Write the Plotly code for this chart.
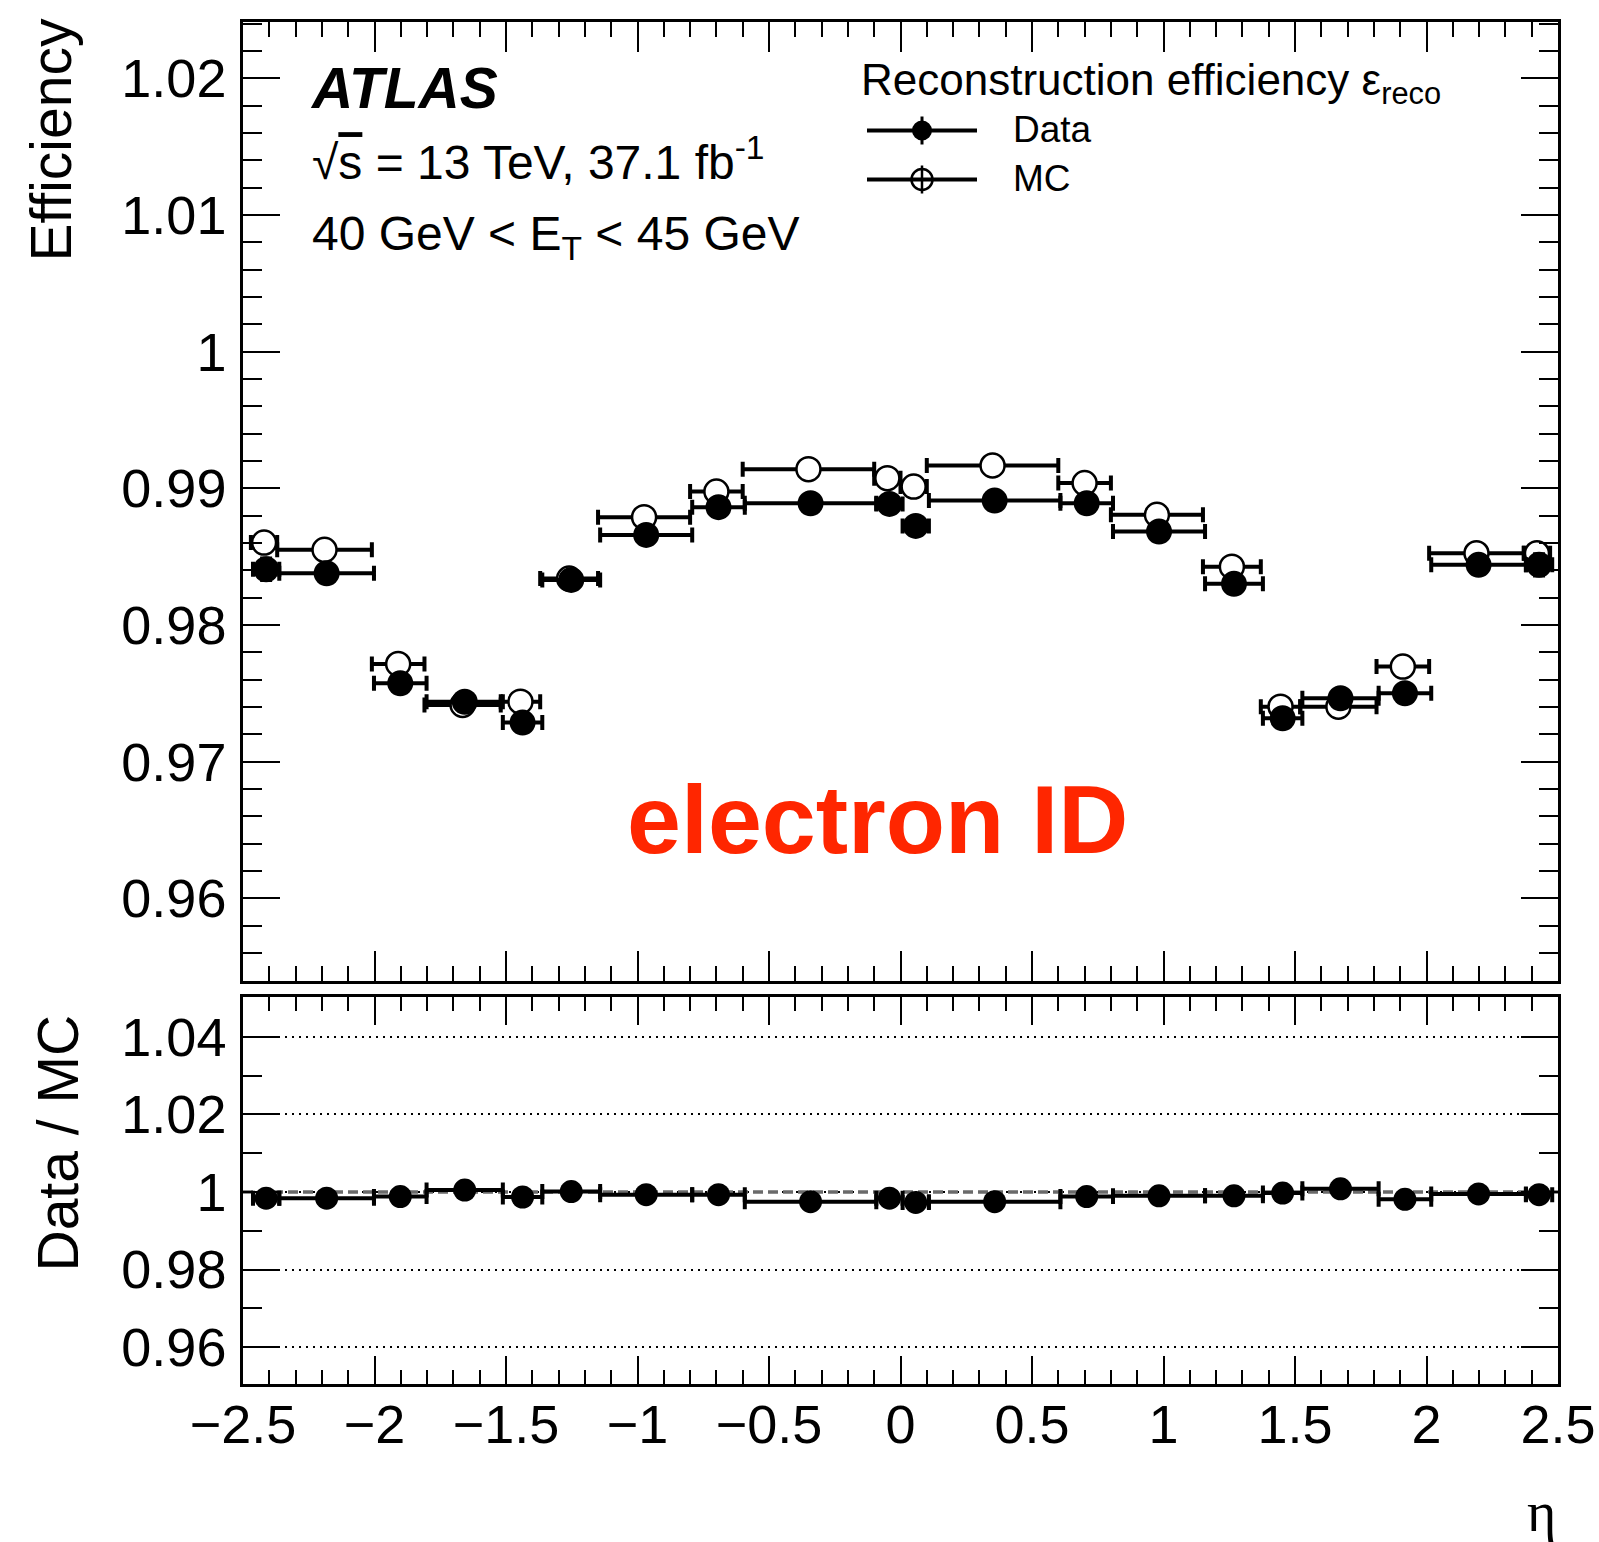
import plotly.graph_objects as go

# ---------------- data ----------------
eta_edges = [-2.47, -2.37, -2.01, -1.81, -1.52, -1.37, -1.15, -0.8, -0.6, -0.1, 0.0,
             0.1, 0.6, 0.8, 1.15, 1.37, 1.52, 1.81, 2.01, 2.37, 2.47]
eff_data = [0.98408, 0.98379, 0.97574, 0.97439, 0.97286, 0.98330, 0.98659, 0.98862,
            0.98891, 0.98886, 0.98725, 0.98910, 0.98891, 0.98684, 0.98301, 0.97318,
            0.97464, 0.97501, 0.98440, 0.98440]
eff_data_err = [0.0008, 0.0003, 0.0004, 0.0003, 0.0004, 0.0003, 0.0002, 0.0002, 0.0001, 0.0002,
                0.0003, 0.0001, 0.0002, 0.0002, 0.0003, 0.0004, 0.0003, 0.0004, 0.0003, 0.0008]
eff_mc = [0.98603, 0.98550, 0.97715, 0.97415, 0.97439, 0.98340, 0.98789, 0.98976,
          0.99140, 0.99074, 0.99013, 0.99167, 0.99038, 0.98806, 0.98427, 0.97403,
          0.97403, 0.97696, 0.98525, 0.98525]
eff_mc_err = [0.0002] * 20
ratio = [0.9984, 0.9984, 0.9988, 1.0005, 0.9987, 1.0001, 0.9993, 0.9993, 0.9975, 0.9984,
         0.9973, 0.9975, 0.9988, 0.9990, 0.9990, 0.9997, 1.0008, 0.9981, 0.9995, 0.9993]
ratio_err = [0.0014] * 20

top_yticks = [0.96, 0.97, 0.98, 0.99, 1.0, 1.01, 1.02]
top_yticktext = ["0.96", "0.97", "0.98", "0.99", "1", "1.01", "1.02"]
bot_yticks = [0.96, 0.98, 1.0, 1.02, 1.04]
bot_yticktext = ["0.96", "0.98", "1", "1.02", "1.04"]
xticks = [-2.5, -2.0, -1.5, -1.0, -0.5, 0.0, 0.5, 1.0, 1.5, 2.0, 2.5]
xticktext = ["\u22122.5", "\u22122", "\u22121.5", "\u22121", "\u22120.5", "0", "0.5", "1", "1.5", "2", "2.5"]

centers = [(a + b) / 2 for a, b in zip(eta_edges[:-1], eta_edges[1:])]
halfw = [(b - a) / 2 for a, b in zip(eta_edges[:-1], eta_edges[1:])]
shift = 0.008
centers_data = [c + shift for c in centers]

# ---------------- layout geometry (pixels) ----------------
W, H = 1599, 1542
L, R, T, B = 243, 1558, 22, 1384


def px(x):
    return (x - L) / (R - L)


def py(y):
    return (B - y) / (B - T)


FONT = "Liberation Sans"
fig = go.Figure()

errx_style = dict(type="data", symmetric=True, color="black", thickness=4, width=7.5)

fig.add_trace(go.Scatter(
    x=centers, y=eff_mc, mode="markers", xaxis="x", yaxis="y",
    marker=dict(symbol="circle", size=24, color="white", line=dict(color="black", width=2.5)),
    error_x=dict(array=halfw, **errx_style),
    error_y=dict(type="data", array=eff_mc_err, color="black", thickness=3, width=0),
    showlegend=False, hoverinfo="skip"))

fig.add_trace(go.Scatter(
    x=centers_data, y=eff_data, mode="markers", xaxis="x", yaxis="y",
    marker=dict(symbol="circle", size=26, color="black", line=dict(width=0)),
    error_x=dict(array=halfw, **errx_style),
    error_y=dict(type="data", array=eff_data_err, color="black", thickness=3.5, width=6),
    showlegend=False, hoverinfo="skip"))

fig.add_trace(go.Scatter(
    x=centers_data, y=ratio, mode="markers", xaxis="x2", yaxis="y2",
    marker=dict(symbol="circle", size=23, color="black", line=dict(width=0)),
    error_x=dict(array=halfw, **errx_style),
    error_y=dict(type="data", array=ratio_err, color="black", thickness=4, width=0),
    showlegend=False, hoverinfo="skip"))

axis_common = dict(showline=True, linecolor="black", linewidth=2.5, mirror="ticks",
                   ticks="inside", tickcolor="black", tickwidth=2, zeroline=False,
                   automargin=False, ticklabeloverflow="allow",
                   tickfont=dict(family=FONT, size=54, color="black"))

top_dom = [py(981), 1.0]
bot_dom = [0.0, py(997)]

fig.update_layout(
    width=W, height=H, autosize=False,
    margin=dict(l=L, r=W - R, t=T, b=H - B, pad=0, autoexpand=False),
    paper_bgcolor="white", plot_bgcolor="white",
    showlegend=False,
    xaxis=dict(domain=[0, 1], anchor="y", range=[-2.5, 2.5], tickvals=xticks,
               showticklabels=False, ticklen=30, showgrid=False,
               minor=dict(dtick=0.1, tick0=0, ticklen=15, ticks="inside", tickcolor="black", tickwidth=2, showgrid=False),
               **axis_common),
    yaxis=dict(domain=top_dom, anchor="x", range=[0.95396, 1.02411], tickvals=top_yticks,
               ticktext=top_yticktext, ticklen=37, showgrid=False, ticklabelstandoff=3,
               minor=dict(dtick=0.002, tick0=0.96, ticklen=19, ticks="inside", tickcolor="black", tickwidth=2, showgrid=False),
               **axis_common),
    xaxis2=dict(domain=[0, 1], anchor="y2", range=[-2.5, 2.5], tickvals=xticks, ticktext=xticktext,
                ticklen=28, showgrid=False, ticklabelstandoff=-9, matches="x",
                minor=dict(dtick=0.1, tick0=0, ticklen=14, ticks="inside", tickcolor="black", tickwidth=2, showgrid=False),
                **axis_common),
    yaxis2=dict(domain=bot_dom, anchor="x2", range=[0.9505, 1.05025], tickvals=bot_yticks,
                ticktext=bot_yticktext, ticklen=37, ticklabelstandoff=3,
                showgrid=True, gridcolor="black", gridwidth=1.8, griddash="2px,5px",
                minor=dict(dtick=0.01, tick0=0.96, ticklen=19, ticks="inside", tickcolor="black", tickwidth=2, showgrid=False),
                **axis_common),
)

shapes = []
# reference line at ratio = 1
shapes.append(dict(type="line", xref="x2", yref="y2", x0=-2.5, x1=2.5, y0=1.0, y1=1.0,
                   line=dict(color="#6a6a6a", width=3.5, dash="10px,5px"), layer="between"))

# legend symbols (pixel geometry)
lx0, lx1, lxc = 867, 977, 922
ly_data, ly_mc = 130.5, 179.5
shapes.append(dict(type="line", xref="paper", yref="paper", x0=px(lx0), x1=px(lx1),
                   y0=py(ly_data), y1=py(ly_data), line=dict(color="black", width=4)))
shapes.append(dict(type="line", xref="paper", yref="paper", x0=px(lxc), x1=px(lxc),
                   y0=py(ly_data - 14), y1=py(ly_data + 14), line=dict(color="black", width=3)))
shapes.append(dict(type="circle", xref="paper", yref="paper",
                   x0=px(lxc - 10), x1=px(lxc + 10), y0=py(ly_data + 10), y1=py(ly_data - 10),
                   fillcolor="black", line=dict(color="black", width=0)))
shapes.append(dict(type="circle", xref="paper", yref="paper",
                   x0=px(lxc - 10.5), x1=px(lxc + 10.5), y0=py(ly_mc + 10.5), y1=py(ly_mc - 10.5),
                   fillcolor="white", line=dict(color="black", width=2.5)))
shapes.append(dict(type="line", xref="paper", yref="paper", x0=px(lx0), x1=px(lx1),
                   y0=py(ly_mc), y1=py(ly_mc), line=dict(color="black", width=4)))
shapes.append(dict(type="line", xref="paper", yref="paper", x0=px(lxc), x1=px(lxc),
                   y0=py(ly_mc - 14), y1=py(ly_mc + 14), line=dict(color="black", width=2.5)))
fig.update_layout(shapes=shapes)


def ann(text, x, y, size, xanchor="left", yanchor="middle", color="black", family=FONT, angle=0):
    return dict(text=text, x=px(x), y=py(y), xref="paper", yref="paper", xanchor=xanchor,
                yanchor=yanchor, showarrow=False, textangle=angle,
                font=dict(family=family, size=size, color=color), borderpad=0)


annotations = [
    ann("<b><i>ATLAS</i></b>", 309, 88.5, 57),
    ann("\u221a<span style=\"text-decoration:overline\">s</span> = 13 TeV, 37.1 fb<sup>-1</sup>", 311, 159, 48),
    ann("40 GeV &lt; E<sub>T</sub> &lt; 45 GeV", 311, 237, 48),
    ann("Reconstruction efficiency \u03b5<sub>reco</sub>", 860, 83, 44),
    ann("Data", 1012, 129, 37),
    ann("MC", 1012, 178, 37),
    ann("<b>electron ID</b>", 877, 819, 97, xanchor="center", color="#FF2600"),
    ann("Efficiency", 51, 18, 57, xanchor="center", yanchor="top", angle=-90),
    ann("Data / MC", 57, 1014, 57, xanchor="center", yanchor="top", angle=-90),
    ann("\u03b7", 1557, 1512, 56, xanchor="right", family="Liberation Serif"),
]
fig.update_layout(annotations=annotations)

post = ("document.documentElement.style.margin='0px';"
        "document.body.style.margin='0px';"
        "document.documentElement.style.overflow='hidden';"
        "document.body.style.overflow='hidden';")

fig.write_html("out.html", config={"displayModeBar": False, "responsive": False},
               post_script=post)
